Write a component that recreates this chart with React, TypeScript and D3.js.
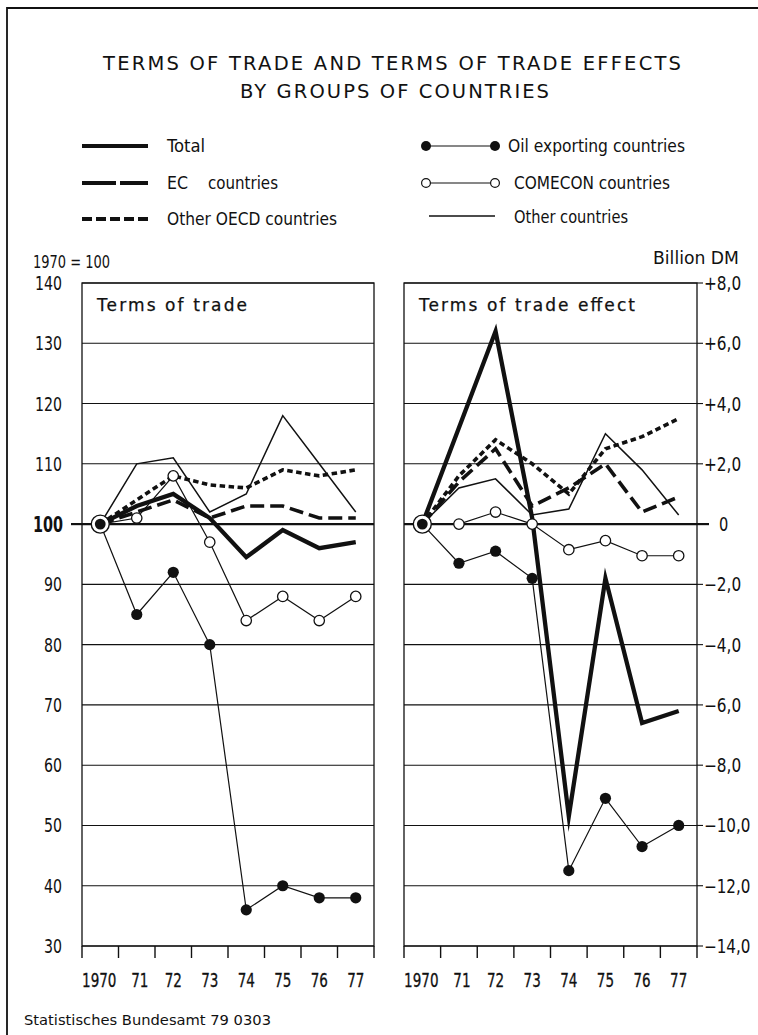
import React from "react";
import * as d3 from "d3";

const years = ["1970", "71", "72", "73", "74", "75", "76", "77"];

// Terms of trade, 1970 = 100
const totalIndex = [100, 103, 105, 101, 94.5, 99, 96, 97];
const ecIndex = [100, 102, 104, 101, 103, 103, 101, 101];
const oecdIndex = [100, 104, 108, 106.5, 106, 109, 108, 109];
const otherIndex = [100, 110, 111, 102, 105, 118, 110, 102];
const comeconIndex = [100, 101, 108, 97, 84, 88, 84, 88];
const oilIndex = [100, 85, 92, 80, 36, 40, 38, 38];

// Terms of trade effect, billion DM
const totalEffect = [0, 3.2, 6.4, 0.2, -9.7, -1.8, -6.6, -6.2];
const ecEffect = [0, 1.4, 2.5, 0.6, 1.2, 2.0, 0.4, 0.9];
const oecdEffect = [0, 1.6, 2.8, 2.0, 1.0, 2.5, 2.9, 3.5];
const otherEffect = [0, 1.2, 1.5, 0.3, 0.5, 3.0, 1.8, 0.3];
const comeconEffect = [0, 0, 0.4, 0, -0.85, -0.55, -1.05, -1.05];
const oilEffect = [0, -1.3, -0.9, -1.8, -11.5, -9.1, -10.7, -10.0];

const indexTicks = [140, 130, 120, 110, 100, 90, 80, 70, 60, 50, 40, 30];
const indexTickLabels = ["140", "130", "120", "110", "100", "90", "80", "70", "60", "50", "40", "30"];
const effectTicks = [8, 6, 4, 2, 0, -2, -4, -6, -8, -10, -12, -14];
const effectTickLabels = ["+8,0", "+6,0", "+4,0", "+2,0", "0", "−2,0", "−4,0", "−6,0", "−8,0", "−10,0", "−12,0", "−14,0"];

const legendLabels = ["Total", "EC", "Other OECD countries", "Oil exporting countries", "COMECON countries", "Other countries"];

const NARROW = "'DejaVu Sans Condensed', 'DejaVu Sans', sans-serif";
const SANS = "'DejaVu Sans', 'Liberation Sans', sans-serif";
const INK = "#111";

type Style = { w: number; dash?: string };
const STYLES: Record<string, Style> = {
  other: { w: 1.5 },
  oecd: { w: 3.6, dash: "5.5 3.5" },
  ec: { w: 3.6, dash: "14 6" },
  total: { w: 4.3 },
  oil: { w: 1.2 },
  comecon: { w: 1.2 },
};

function Panel({ x, y, series, baseVal, title, titleLen }: any) {
  const cx = (i: number) => (x(years[i]) as number) + x.bandwidth() / 2;
  const line = d3.line<number>().x((_, i) => cx(i)).y((d) => y(d));
  const [x0, x1] = x.range();
  const [yb, yt] = y.range();
  const order = ["other", "oecd", "ec", "oil", "comecon", "total"];
  return (
    <g>
      {series.ticks.map((t: number) => (
        <line key={"g" + t} x1={x0} x2={x1} y1={y(t)} y2={y(t)} stroke={INK} strokeWidth={t === baseVal ? 2.2 : 1.1} />
      ))}
      <rect x={x0} y={yt} width={x1 - x0} height={yb - yt} fill="none" stroke={INK} strokeWidth={1.3} />
      {years.map((yr) => (
        <line key={"t" + yr} x1={x(yr)} x2={x(yr)} y1={yb} y2={yb + 12} stroke={INK} strokeWidth={1.4} />
      ))}
      <line x1={x1} x2={x1} y1={yb} y2={yb + 12} stroke={INK} strokeWidth={1.4} />
      {years.map((yr, i) => (
        <text key={"xl" + yr} x={cx(i) + (i === 0 ? -1 : i === 1 ? 3 : 0)} y={yb + 41} textAnchor="middle" fontFamily={NARROW} fontSize={20} fill={INK}
          stroke={INK} strokeWidth={0.3}
          textLength={yr.length * 8.6} lengthAdjust="spacingAndGlyphs">
          {yr}
        </text>
      ))}
      <text x={x0 + 15} y={yt + 28} fontFamily={SANS} fontSize={17} fill={INK} textLength={titleLen} lengthAdjust="spacing" stroke={INK} strokeWidth={0.25}>
        {title}
      </text>
      {order.map((k) => {
        const st = STYLES[k];
        return (
          <path key={"l" + k} d={line(series[k]) as string} fill="none" stroke={INK} strokeWidth={st.w}
            strokeDasharray={st.dash} strokeLinejoin="miter" strokeMiterlimit={10} />
        );
      })}
      {series.oil.map((v: number, i: number) =>
        i === 0 ? null : <circle key={"o" + i} cx={cx(i)} cy={y(v)} r={5.6} fill={INK} />
      )}
      {series.comecon.map((v: number, i: number) =>
        i === 0 ? null : <circle key={"c" + i} cx={cx(i)} cy={y(v)} r={5.2} fill="#fff" stroke={INK} strokeWidth={1.3} />
      )}
      <circle cx={cx(0)} cy={y(series.oil[0])} r={9} fill="#fff" stroke={INK} strokeWidth={1.4} />
      <circle cx={cx(0)} cy={y(series.oil[0])} r={5.4} fill={INK} />
    </g>
  );
}

export default function App() {
  const top = 283, bottom = 946;
  const xL = d3.scaleBand().domain(years).range([82, 374]);
  const xR = d3.scaleBand().domain(years).range([404, 697]);
  const yL = d3.scaleLinear().domain([30, 140]).range([bottom, top]);
  const yR = d3.scaleLinear().domain([-14, 8]).range([bottom, top]);

  const leftSeries = { total: totalIndex, ec: ecIndex, oecd: oecdIndex, other: otherIndex, comecon: comeconIndex, oil: oilIndex, ticks: indexTicks };
  const rightSeries = { total: totalEffect, ec: ecEffect, oecd: oecdEffect, other: otherEffect, comecon: comeconEffect, oil: oilEffect, ticks: effectTicks };

  const lx0 = 82, lx1 = 148, rx0 = 426, rx1 = 495;
  const rows = [146, 183, 219];

  return (
    <svg width={758} height={1035} style={{ position: "absolute", left: 0, top: 0, background: "#fff" }}>
      <rect x={0} y={0} width={758} height={1035} fill="#fff" />
      <path d="M7,1035 V8 H758" fill="none" stroke={INK} strokeWidth={1.8} />

      {/* Title */}
      <text x={103} y={70} fontFamily={SANS} fontSize={19.5} fill={INK} textLength={578} lengthAdjust="spacing">
        TERMS OF TRADE AND TERMS OF TRADE EFFECTS
      </text>
      <text x={240} y={98} fontFamily={SANS} fontSize={19.5} fill={INK} textLength={309} lengthAdjust="spacing">
        BY GROUPS OF COUNTRIES
      </text>

      {/* Legend left */}
      <line x1={lx0} x2={lx1} y1={rows[0]} y2={rows[0]} stroke={INK} strokeWidth={4} />
      <line x1={lx0} x2={lx1} y1={rows[1]} y2={rows[1]} stroke={INK} strokeWidth={4} strokeDasharray="34 4" />
      <line x1={lx0} x2={lx1} y1={rows[2]} y2={rows[2]} stroke={INK} strokeWidth={4} strokeDasharray="10 4" />
      <text x={167} y={rows[0] + 6} fontFamily={NARROW} fontSize={17} fill={INK} textLength={38} lengthAdjust="spacingAndGlyphs">{legendLabels[0]}</text>
      <text x={167} y={rows[1] + 6} fontFamily={NARROW} fontSize={17} fill={INK} textLength={21} lengthAdjust="spacingAndGlyphs">{legendLabels[1]}</text>
      <text x={208} y={rows[1] + 6} fontFamily={NARROW} fontSize={17} fill={INK} textLength={70} lengthAdjust="spacingAndGlyphs">countries</text>
      <text x={167} y={rows[2] + 6} fontFamily={NARROW} fontSize={17} fill={INK} textLength={170} lengthAdjust="spacingAndGlyphs">{legendLabels[2]}</text>

      {/* Legend right */}
      <line x1={rx0} x2={rx1} y1={rows[0]} y2={rows[0]} stroke={INK} strokeWidth={1.1} />
      <circle cx={rx0} cy={rows[0]} r={5} fill={INK} />
      <circle cx={rx1} cy={rows[0]} r={5} fill={INK} />
      <line x1={rx0} x2={rx1} y1={rows[1]} y2={rows[1]} stroke={INK} strokeWidth={1.2} />
      <circle cx={rx0} cy={rows[1]} r={4.4} fill="#fff" stroke={INK} strokeWidth={1.2} />
      <circle cx={rx1} cy={rows[1]} r={4.4} fill="#fff" stroke={INK} strokeWidth={1.2} />
      <line x1={rx0 + 3} x2={rx1} y1={rows[2] - 3} y2={rows[2] - 3} stroke={INK} strokeWidth={1.6} />
      <text x={508} y={rows[0] + 6} fontFamily={NARROW} fontSize={17} fill={INK} textLength={177} lengthAdjust="spacingAndGlyphs">{legendLabels[3]}</text>
      <text x={514} y={rows[1] + 6} fontFamily={NARROW} fontSize={17} fill={INK} textLength={156} lengthAdjust="spacingAndGlyphs">{legendLabels[4]}</text>
      <text x={514} y={rows[2] + 4} fontFamily={NARROW} fontSize={17} fill={INK} textLength={114} lengthAdjust="spacingAndGlyphs">{legendLabels[5]}</text>

      {/* Axis headers */}
      <text x={33} y={268} fontFamily={NARROW} fontSize={17} fill={INK} textLength={77} lengthAdjust="spacingAndGlyphs">1970 = 100</text>
      <text x={653} y={264} fontFamily={NARROW} fontSize={17} fill={INK} textLength={86} lengthAdjust="spacingAndGlyphs">Billion DM</text>

      {/* Left y labels */}
      {indexTicks.map((t, i) =>
        t === 100 ? (
          <text key={"yl" + t} x={63} y={yL(t) + 8} textAnchor="end" fontFamily={NARROW} fontSize={22} fontWeight="bold" fill={INK}
            textLength={30} lengthAdjust="spacingAndGlyphs">{indexTickLabels[i]}</text>
        ) : (
          <text key={"yl" + t} x={62} y={yL(t) + 7} textAnchor="end" fontFamily={NARROW} fontSize={20} fill={INK}
            textLength={indexTickLabels[i].length * 9} lengthAdjust="spacingAndGlyphs">{indexTickLabels[i]}</text>
        )
      )}
      <line x1={71} x2={82} y1={yL(100)} y2={yL(100)} stroke={INK} strokeWidth={2.2} />

      {/* Right y labels */}
      {effectTicks.map((t, i) => (
        <g key={"yr" + t}>
          <line x1={697} x2={t === 0 ? 709 : 703} y1={yR(t)} y2={yR(t)} stroke={INK} strokeWidth={t === 0 ? 2.2 : 1.1} />
          <text x={t === 0 ? 719 : 704} y={yR(t) + 7} fontFamily={NARROW} fontSize={19} fill={INK}
            textLength={effectTickLabels[i].length * 9.3} lengthAdjust="spacingAndGlyphs">{effectTickLabels[i]}</text>
        </g>
      ))}

      <Panel x={xL} y={yL} series={leftSeries} baseVal={100} title="Terms of trade" titleLen={150} />
      <Panel x={xR} y={yR} series={rightSeries} baseVal={0} title="Terms of trade effect" titleLen={216} />

      {/* Footer */}
      <text x={24} y={1025} fontFamily={NARROW} fontSize={14} fill={INK} textLength={247} lengthAdjust="spacingAndGlyphs">Statistisches Bundesamt 79 0303</text>
    </svg>
  );
}
